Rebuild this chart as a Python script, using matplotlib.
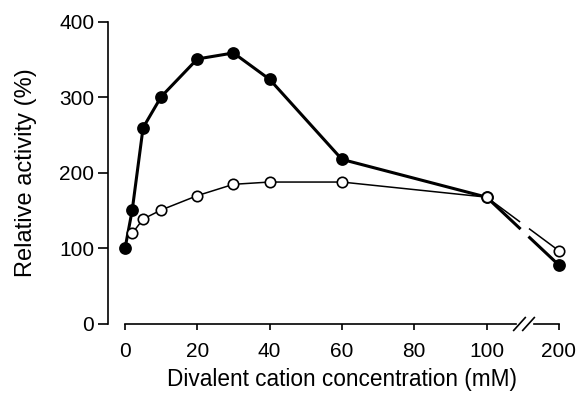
import numpy as np
import matplotlib
matplotlib.use("Agg")
import matplotlib.pyplot as plt

plt.rcParams['font.family'] = ['Liberation Sans', 'DejaVu Sans']

# concentrations (mM); 200 is drawn after an axis break
conc = [0, 2, 5, 10, 20, 30, 40, 60, 100, 200]
filled = [100, 151, 260, 301, 351, 359, 324, 218, 168, 78]
conc_open = [2, 5, 10, 20, 30, 40, 60, 100, 200]
opened = [120, 139, 151, 170, 185, 188, 188, 168, 97]

xticks = [0, 20, 40, 60, 80, 100, 200]

# position of 200 on the compressed axis, and the break gap
pos200 = 120
gap = (109.1, 111.9)


def xpos(c):
    return np.array([pos200 if v == 200 else v for v in c], dtype=float)


def split_at_gap(x, y):
    # last segment (100 -> 200) is interrupted around the axis break
    x0, x1 = x[-2], x[-1]
    y0, y1 = y[-2], y[-1]
    ya = y0 + (y1 - y0) * (gap[0] - x0) / (x1 - x0)
    yb = y0 + (y1 - y0) * (gap[1] - x0) / (x1 - x0)
    left = (list(x[:-1]) + [gap[0]], list(y[:-1]) + [ya])
    right = ([gap[1], x1], [yb, y1])
    return left, right


fig = plt.figure(figsize=(5.77, 3.94), dpi=100)
ax = fig.add_axes([0.1872, 0.1777, 0.7833, 0.7665])

for xs, ys, lw, face, ms in [(xpos(conc), filled, 2.2, 'black', 8),
                              (xpos(conc_open), opened, 1.1, 'white', 7.5)]:
    (lx, ly), (rx, ry) = split_at_gap(xs, ys)
    ax.plot(lx, ly, color='black', lw=lw, clip_on=False, zorder=2)
    ax.plot(rx, ry, color='black', lw=lw, clip_on=False, zorder=2)
    ax.plot(xs, ys, ls='none', marker='o', ms=ms, mfc=face, mec='black',
            mew=1.2, clip_on=False, zorder=3)

ax.set_xlim(-4.7, 120.3)
ax.set_ylim(0, 400)

ax.spines['top'].set_visible(False)
ax.spines['right'].set_visible(False)
ax.spines['bottom'].set_visible(False)
ax.spines['left'].set_linewidth(1.2)

# broken x axis line
ax.plot([0, 108.0], [0, 0], color='black', lw=1.2, clip_on=False)
ax.plot([113.0, 120], [0, 0], color='black', lw=1.2, clip_on=False)
for bx in [109.1, 111.6]:
    ax.plot([bx - 1.6, bx + 1.6], [-8.5, 8.5], color='black', lw=1.2,
            clip_on=False)

ax.set_xticks(xpos(xticks))
ax.set_xticklabels([str(t) for t in xticks])
ax.set_yticks([0, 100, 200, 300, 400])
ax.tick_params(axis='x', length=4, width=1.2, labelsize=15, pad=9)
ax.tick_params(axis='y', length=7, width=1.2, labelsize=15, pad=3)

ax.set_xlabel('Divalent cation concentration (mM)', fontsize=16.25, labelpad=5)
ax.xaxis.label.set_x(0.517)
ax.set_ylabel('Relative activity (%)', fontsize=17, labelpad=16)

fig.savefig('out.png', dpi=100)
